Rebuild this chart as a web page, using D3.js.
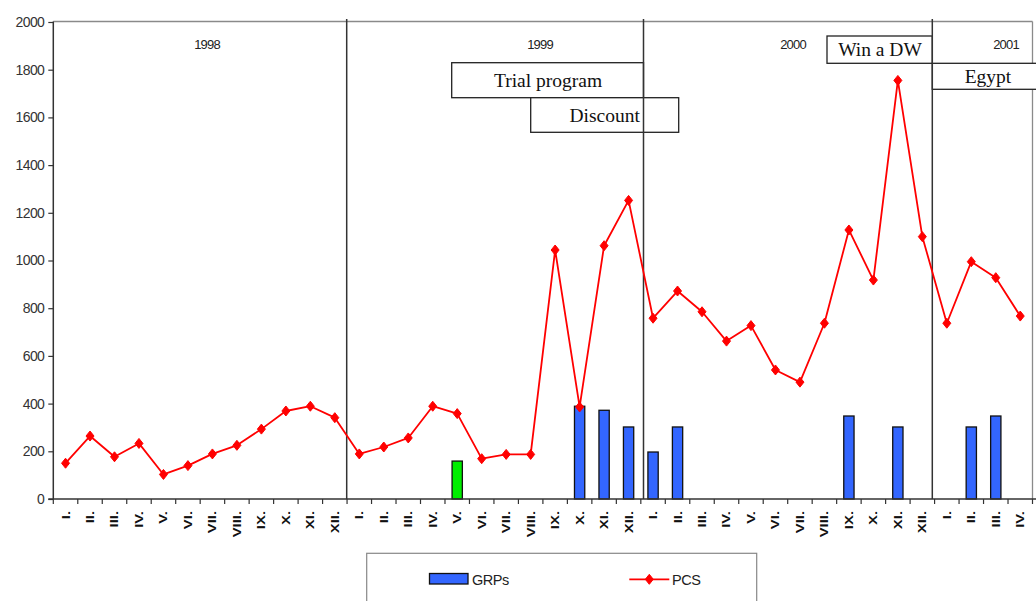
<!DOCTYPE html>
<html>
<head>
<meta charset="utf-8">
<script src="https://cdn.jsdelivr.net/npm/d3@7"></script>
<style>
  html, body { margin: 0; padding: 0; background: #fff; }
  svg { display: block; }
</style>
</head>
<body>
<svg id="chart" width="1036" height="601"></svg>
<script>
// ---------- data ----------
const years = ["1998", "1999", "2000", "2001"];
const monthsPerYear = [12, 12, 12, 4];
const monthLabels = ["I.", "II.", "III.", "IV.", "V.", "VI.", "VII.", "VIII.", "IX.", "X.", "XI.", "XII."];
const yTicks = [0, 200, 400, 600, 800, 1000, 1200, 1400, 1600, 1800, 2000];

// PCS (line), one value per month, 1998-I ... 2001-IV
const pcs = [
  150, 264, 177, 233, 103, 140, 189, 225, 293, 369, 389, 341,
  189, 218, 256, 389, 358, 169, 187, 187, 1044, 386, 1062, 1252,
  758, 872, 785, 662, 727, 541, 490, 737, 1128, 918, 1755, 1100,
  737, 995, 928, 767
];
// GRPs (bars), null = no campaign
const grps = [
  null, null, null, null, null, null, null, null, null, null, null, null,
  null, null, null, null, null, null, null, null, null, 389, 372, 302,
  197, 302, null, null, null, null, null, null, 348, null, 302, null,
  null, 302, 348, null
];
// trial GRPs (green bar)
const grpsTrial = [
  null, null, null, null, null, null, null, null, null, null, null, null,
  null, null, null, null, 159, null, null, null, null, null, null, null,
  null, null, null, null, null, null, null, null, null, null, null, null,
  null, null, null, null
];
const campaigns = ["Trial program", "Discount", "Win a DW", "Egypt"];

// ---------- build categories ----------
const cats = [];
years.forEach((y, yi) => {
  for (let m = 0; m < monthsPerYear[yi]; m++) cats.push({ key: y + "-" + monthLabels[m], year: y, label: monthLabels[m] });
});
const keys = cats.map(c => c.key);

// ---------- layout ----------
const svg = d3.select("#chart");
const L = 53.3, R = 1032.5, T = 21.5, B = 499;
const x = d3.scaleBand().domain(keys).range([L, R]).padding(0);
const y = d3.scaleLinear().domain([0, 2000]).range([B, 22]);
const bw = x.bandwidth();

// plot frame (top and right, gray)
svg.append("line").attr("x1", L).attr("x2", R).attr("y1", T).attr("y2", T)
  .attr("stroke", "#8a8a8a").attr("stroke-width", 1.3);
svg.append("line").attr("x1", R).attr("x2", R).attr("y1", T).attr("y2", B)
  .attr("stroke", "#8a8a8a").attr("stroke-width", 1.3);

// year divider lines (hand-placed in the original)
const dividerX = [346.7, 643.5, 932.3];

// year labels
const yearLabelX = [207, 540, 793, 1006];
years.forEach((yr, i) => {
  svg.append("text").attr("x", yearLabelX[i]).attr("y", 49).attr("text-anchor", "middle")
    .attr("font-family", "Liberation Sans, Arial, sans-serif").attr("font-size", 13)
    .attr("letter-spacing", -0.8).attr("fill", "#222").text(yr);
});

// campaign boxes
const boxes = [
  { t: campaigns[0], x0: 451.7, x1: 643.5, y0: 62.7, y1: 97.7 },
  { t: campaigns[1], x0: 530.7, x1: 678.7, y0: 97.7, y1: 132.3 },
  { t: campaigns[2], x0: 827, x1: 932.3, y0: 36, y1: 63.3 },
  { t: campaigns[3], x0: 932.3, x1: 1040, y0: 63.3, y1: 89.3 }
];
boxes.forEach(b => {
  svg.append("rect").attr("x", b.x0).attr("y", b.y0).attr("width", b.x1 - b.x0).attr("height", b.y1 - b.y0)
    .attr("fill", "#fff").attr("stroke", "#222").attr("stroke-width", 1.3);
});
dividerX.forEach(dx => {
  svg.append("line").attr("x1", dx).attr("x2", dx).attr("y1", 19).attr("y2", B)
    .attr("stroke", "#333").attr("stroke-width", 1.5);
});
const boxTextX = [548, 604.7, 880, 988];
boxes.forEach((b, i) => {
  svg.append("text").attr("x", boxTextX[i]).attr("y", (b.y0 + b.y1) / 2 + 6.5).attr("text-anchor", "middle")
    .attr("font-family", "Liberation Serif, Times New Roman, serif").attr("font-size", 19.5)
    .attr("fill", "#111").text(b.t);
});

// bars
const barW = bw * 0.42;
svg.append("g").selectAll("rect").data(cats.map((c, i) => ({ c, v: grps[i] })).filter(d => d.v != null))
  .join("rect")
  .attr("x", d => x(d.c.key) + (bw - barW) / 2).attr("width", barW)
  .attr("y", d => y(d.v)).attr("height", d => y(0) - y(d.v))
  .attr("fill", "#3366ff").attr("stroke", "#111").attr("stroke-width", 1.3);
svg.append("g").selectAll("rect").data(cats.map((c, i) => ({ c, v: grpsTrial[i] })).filter(d => d.v != null))
  .join("rect")
  .attr("x", d => x(d.c.key) + (bw - barW) / 2).attr("width", barW)
  .attr("y", d => y(d.v)).attr("height", d => y(0) - y(d.v))
  .attr("fill", "#00ee00").attr("stroke", "#111").attr("stroke-width", 1.3);

// PCS line
const line = d3.line().x((d, i) => x(keys[i]) + bw / 2).y(d => y(d));
svg.append("path").datum(pcs).attr("d", line).attr("fill", "none")
  .attr("stroke", "#ff0000").attr("stroke-width", 1.8).attr("stroke-linejoin", "round");
const diamond = "M0,-5L4,0L0,5L-4,0Z";
svg.append("g").selectAll("path").data(pcs).join("path")
  .attr("transform", (d, i) => `translate(${x(keys[i]) + bw / 2},${y(d)})`)
  .attr("d", diamond).attr("fill", "#ff0000").attr("stroke", "#ff0000").attr("stroke-width", 1);

// y axis
const yAxis = svg.append("g").attr("transform", `translate(${L},0)`)
  .call(d3.axisLeft(y).tickValues(yTicks).tickFormat(d3.format("d")).tickSize(5).tickPadding(4).tickSizeOuter(0));
yAxis.select(".domain").attr("stroke", "#333").attr("stroke-width", 1.5).attr("d", `M0,${T}V${B}`);
yAxis.selectAll(".tick line").attr("stroke", "#333").attr("stroke-width", 1.2);
yAxis.selectAll(".tick text").attr("font-family", "Liberation Sans, Arial, sans-serif")
  .attr("font-size", 14).attr("letter-spacing", -0.6).attr("fill", "#333");

// x axis
svg.append("line").attr("x1", L - 5).attr("x2", 1036).attr("y1", B).attr("y2", B)
  .attr("stroke", "#333").attr("stroke-width", 1.5);
const boundaries = keys.map(k => x(k)).concat([R]);
svg.append("g").selectAll("line").data(boundaries).join("line")
  .attr("x1", d => d).attr("x2", d => d).attr("y1", B).attr("y2", B + 5)
  .attr("stroke", "#333").attr("stroke-width", 1.2);
svg.append("g").selectAll("text").data(cats).join("text")
  .attr("transform", d => `translate(${x(d.key) + bw / 2},${511}) rotate(-90) scale(1.35,1)`)
  .attr("text-anchor", "end").attr("dy", "0.36em")
  .attr("font-family", "Liberation Sans, Arial, sans-serif").attr("font-size", 11).attr("font-weight", "bold")
  .attr("fill", "#111").text(d => d.label);

// legend
const lg = svg.append("g");
lg.append("rect").attr("x", 366.7).attr("y", 553.3).attr("width", 390).attr("height", 60)
  .attr("fill", "#fff").attr("stroke", "#888").attr("stroke-width", 1.2);
lg.append("rect").attr("x", 429.5).attr("y", 573.5).attr("width", 38.5).attr("height", 10.5)
  .attr("fill", "#3366ff").attr("stroke", "#111").attr("stroke-width", 1.3);
lg.append("text").attr("x", 472).attr("y", 584.5).attr("font-family", "Liberation Sans, Arial, sans-serif")
  .attr("font-size", 14.5).attr("letter-spacing", -0.5).attr("fill", "#222").text("GRPs");
lg.append("line").attr("x1", 629.3).attr("x2", 669.3).attr("y1", 579.3).attr("y2", 579.3)
  .attr("stroke", "#ff0000").attr("stroke-width", 1.8);
lg.append("path").attr("transform", "translate(649.3,579.3)").attr("d", diamond)
  .attr("fill", "#ff0000").attr("stroke", "#ff0000");
lg.append("text").attr("x", 672).attr("y", 584.5).attr("font-family", "Liberation Sans, Arial, sans-serif")
  .attr("font-size", 14.5).attr("letter-spacing", -0.5).attr("fill", "#222").text("PCS");
</script>
</body>
</html>
